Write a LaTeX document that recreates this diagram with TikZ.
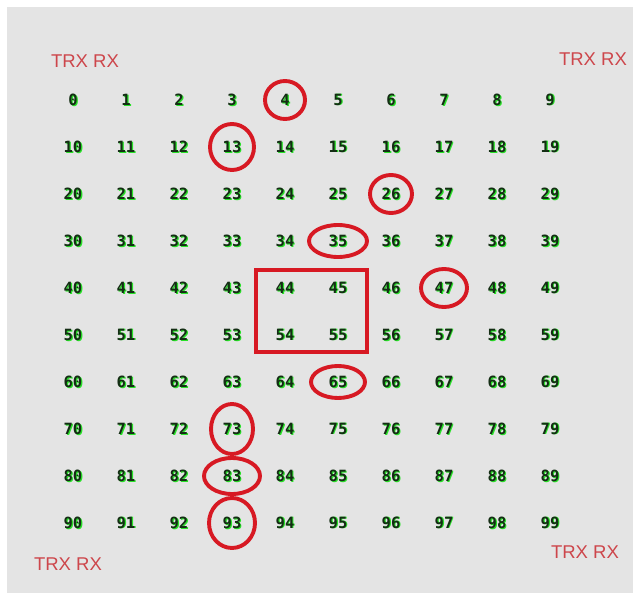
\documentclass[tikz,border=0pt]{standalone}
\usepackage{fontspec}
\setmainfont{Liberation Sans}
\newfontfamily\numfont{DejaVu Sans Mono}
\usepackage{xcolor}
\usetikzlibrary{positioning}

\definecolor{panelgray}{RGB}{228,228,228}
\definecolor{tagred}{RGB}{205,70,75}
\definecolor{ringred}{RGB}{215,25,35}
\definecolor{numink}{RGB}{20,45,20}
\definecolor{numglow}{RGB}{40,225,40}

% digit with a green glow behind it
\newcommand{\glownum}[1]{\makebox[0pt][l]{\kern1.2pt\raisebox{-0.8pt}{\textcolor{numglow}{#1}}}\textcolor{numink}{#1}}

\begin{document}
\begin{tikzpicture}[x=1pt,y=-1pt,
          every node/.style={inner sep=0pt},
          cell/.style={font=\numfont\bfseries\fontsize{15.5}{15.5}\selectfont},
          tag/.style={text=tagred,font=\fontsize{18.5}{18.5}\selectfont},
          ring/.style={draw=ringred,line width=3.9pt},
        ]
        \useasboundingbox (0,0) rectangle (633,594);
        \fill[panelgray] (7,7) rectangle (633,593);
        % the 10x10 grid of numbered cells
        \foreach \r in {0,...,9} {
          \foreach \c in {0,...,9} {
            \pgfmathtruncatemacro{\n}{10*\r+\c}
            \node[cell] (n\n) at ({73+53*\c},{100+47*\r}) {\glownum{\n}};
          }
        }
        % corner labels
        \node[tag] (tl) at (85,61) {TRX RX};
        \node[tag] (tr) at (593,59) {TRX RX};
        \node[tag] (bl) at (68,564) {TRX RX};
        \node[tag] (br) at (585,552) {TRX RX};
        % marked cells
        \draw[ring] (n4) ellipse [x radius=20, y radius=19];
        \draw[ring] (n13) ellipse [x radius=22, y radius=23];
        \draw[ring] (n26) ellipse [x radius=21, y radius=19];
        \draw[ring] (n35) ellipse [x radius=29, y radius=16];
        \draw[ring] (n47) ellipse [x radius=23, y radius=19];
        \draw[ring] (n65) ellipse [x radius=27, y radius=16];
        \draw[ring] (n73) ellipse [x radius=21, y radius=25];
        \draw[ring] (n83) ellipse [x radius=28, y radius=18];
        \draw[ring] (n93) ellipse [x radius=23, y radius=25];
        \draw[ring] ([shift={(-29,-18)}]n44.center) rectangle ([shift={(29,17)}]n55.center);
      \end{tikzpicture}
\end{document}
